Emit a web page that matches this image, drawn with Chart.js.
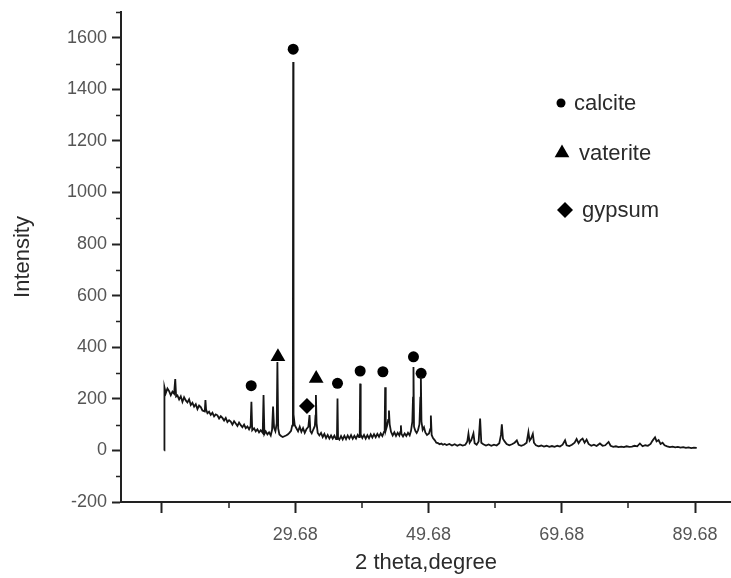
<!DOCTYPE html>
<html>
<head>
<meta charset="utf-8">
<script src="https://cdn.jsdelivr.net/npm/chart.js@4.4.1/dist/chart.umd.min.js"></script>
<style>
  html, body { margin: 0; padding: 0; background: #fff; }
  canvas { display: block; }
</style>
</head>
<body>
<canvas id="xrd" width="731" height="578"></canvas>
<script>
// XRD scan (2 theta in degrees, counts)
const twoTheta = [
  10.02, 10.05, 10.25, 10.50, 10.75, 11.00, 11.25, 11.50, 11.67, 11.80,
  12.00, 12.25, 12.50, 12.75, 13.00, 13.25, 13.50, 13.75, 14.00, 14.25,
  14.50, 14.75, 15.00, 15.25, 15.50, 15.75, 16.10, 16.20, 16.30, 16.50,
  16.75, 17.00, 17.25, 17.50, 17.75, 18.00, 18.25, 18.50, 18.75, 19.00,
  19.25, 19.50, 19.75, 20.00, 20.25, 20.50, 20.75, 21.00, 21.25, 21.50,
  21.75, 22.00, 22.25, 22.50, 22.75, 22.98, 23.10, 23.22, 23.50, 23.75,
  24.00, 24.25, 24.50, 24.80, 24.92, 25.05, 25.25, 25.50, 25.75, 26.00,
  26.20, 26.35, 26.50, 26.70, 26.90, 27.00, 27.12, 27.30, 27.55, 27.80,
  28.05, 28.30, 28.55, 28.80, 29.05, 29.22, 29.33, 29.37, 29.42, 29.60,
  29.85, 30.10, 30.35, 30.60, 30.85, 31.10, 31.35, 31.65, 31.82, 31.95,
  32.15, 32.40, 32.62, 32.72, 32.78, 32.88, 33.05, 33.30, 33.55, 33.80,
  34.05, 34.30, 34.55, 34.80, 35.05, 35.30, 35.55, 35.80, 35.94, 36.02,
  36.10, 36.30, 36.55, 36.80, 37.05, 37.30, 37.55, 37.80, 38.05, 38.30,
  38.55, 38.80, 39.05, 39.25, 39.36, 39.42, 39.50, 39.75, 40.00, 40.25,
  40.50, 40.75, 41.00, 41.25, 41.50, 41.75, 42.00, 42.25, 42.50, 42.75,
  43.00, 43.10, 43.17, 43.26, 43.45, 43.62, 43.74, 43.85, 44.05, 44.30,
  44.55, 44.80, 45.05, 45.30, 45.45, 45.53, 45.62, 45.85, 46.10, 46.35,
  46.60, 46.85, 47.05, 47.25, 47.35, 47.42, 47.50, 47.70, 47.90, 48.10,
  48.32, 48.45, 48.53, 48.62, 48.80, 49.00, 49.20, 49.45, 49.75, 49.93,
  50.03, 50.15, 50.35, 50.60, 50.85, 51.10, 51.35, 51.60, 51.85, 52.10,
  52.40, 52.80, 53.20, 53.60, 54.00, 54.40, 54.80, 55.20, 55.50, 55.67,
  55.85, 56.10, 56.42, 56.60, 56.90, 57.20, 57.42, 57.60, 57.90, 58.30,
  58.70, 59.10, 59.50, 59.90, 60.30, 60.55, 60.68, 60.85, 61.10, 61.40,
  61.80, 62.20, 62.60, 62.93, 63.20, 63.60, 64.00, 64.40, 64.67, 64.85,
  65.05, 65.33, 65.50, 65.80, 66.20, 66.60, 67.00, 67.40, 67.80, 68.20,
  68.60, 69.00, 69.40, 69.80, 70.17, 70.40, 70.80, 71.20, 71.60, 71.90,
  72.20, 72.50, 72.80, 73.10, 73.40, 73.70, 74.10, 74.50, 74.90, 75.40,
  75.80, 76.20, 76.70, 77.00, 77.40, 77.80, 78.20, 78.60, 79.00, 79.40,
  79.80, 80.20, 80.60, 81.00, 81.40, 81.80, 82.20, 82.60, 83.00, 83.30,
  83.67, 83.90, 84.20, 84.50, 84.80, 85.10, 85.50, 85.90, 86.30, 86.70,
  87.10, 87.50, 87.90, 88.30, 88.70, 89.10, 89.50, 89.93
]
const intensity = [
  0, 245, 222, 240, 230, 214, 228, 220, 277, 209,
  213, 198, 210, 188, 206, 194, 186, 198, 176, 185,
  170, 179, 160, 174, 168, 155, 151, 195, 158, 144,
  150, 138, 146, 132, 140, 136, 124, 133, 126, 116,
  126, 110, 117, 112, 100, 113, 104, 95, 108, 98,
  90, 100, 86, 93, 82, 94, 189, 78, 86, 74,
  82, 70, 78, 68, 215, 64, 74, 62, 70, 58,
  80, 170, 88, 75, 105, 343, 85, 62, 56, 52,
  55, 58, 62, 68, 76, 96, 590, 1506, 140, 98,
  86, 74, 92, 72, 86, 68, 82, 92, 137, 74,
  66, 82, 95, 135, 215, 105, 68, 58, 68, 52,
  64, 48, 60, 46, 58, 46, 57, 44, 56, 201,
  48, 42, 56, 43, 57, 44, 58, 46, 59, 45,
  57, 46, 60, 52, 72, 259, 62, 48, 60, 46,
  59, 47, 62, 50, 63, 51, 64, 53, 66, 56,
  72, 92, 245, 78, 95, 118, 155, 101, 72, 58,
  70, 56, 68, 58, 72, 97, 64, 54, 66, 56,
  68, 58, 76, 112, 205, 323, 92, 76, 68, 78,
  102, 205, 284, 112, 80, 90, 70, 60, 66, 82,
  135, 60, 48, 40, 30, 28, 24, 27, 22, 25,
  21, 25, 19, 24, 18, 23, 19, 22, 35, 65,
  30, 40, 66, 28, 22, 35, 124, 30, 24, 19,
  23, 18, 22, 19, 28, 60, 101, 45, 35, 25,
  20, 24, 30, 39, 22, 18, 22, 30, 71, 38,
  45, 64, 30, 20, 16, 19, 15, 18, 14, 17,
  14, 18, 15, 22, 39, 20, 17, 22, 30, 44,
  28, 40, 46, 30, 42, 25, 18, 22, 17, 27,
  18, 20, 33, 18, 14, 16, 13, 15, 13, 16,
  14, 15, 18, 16, 27, 16, 20, 18, 25, 38,
  51, 35, 40, 25, 30, 20, 16, 13, 15, 12,
  14, 11, 13, 10, 12, 9, 11, 10
]

// phase markers placed above the peaks
const calciteTheta = [23.07, 29.37, 36.02, 39.42, 42.83, 47.42, 48.57]
const calciteI = [251, 1556, 260, 308, 305, 363, 299]
const vateriteTheta = [27.08, 32.82]
const vateriteI = [363, 279]
const gypsumTheta = [31.43]
const gypsumI = [172]

// axes
const xTicks = [9.68, 29.68, 49.68, 69.68, 89.68]
const xLabels = [29.68, 49.68, 69.68, 89.68]
const xMinorTicks = [19.68, 39.68, 59.68, 79.68]
const yTicks = [-200, 0, 200, 400, 600, 800, 1000, 1200, 1400, 1600]
const yMinorTicks = [-100, 100, 300, 500, 700, 900, 1100, 1300, 1500, 1700]

const FONT = '"Liberation Sans", Arial, sans-serif'
const AXIS = '#222'

const toPoints = (xs, ys) => xs.map((x, i) => ({x: x, y: ys[i]}))

// short ticks between the labelled ones
const minorTicks = {
  id: 'minorTicks',
  afterDraw(chart) {
    const {ctx, chartArea, scales} = chart
    ctx.save()
    ctx.strokeStyle = AXIS
    ctx.lineWidth = 1.5
    ctx.beginPath()
    yMinorTicks.forEach(v => {
      const py = Math.round(scales.y.getPixelForValue(v)) + 0.5
      ctx.moveTo(chartArea.left, py)
      ctx.lineTo(chartArea.left - 5, py)
    })
    xMinorTicks.forEach(v => {
      const px = Math.round(scales.x.getPixelForValue(v))
      ctx.moveTo(px, chartArea.bottom)
      ctx.lineTo(px, chartArea.bottom + 6)
    })
    ctx.stroke()
    ctx.restore()
  }
}

// legend sits inside the plot, top right
const phaseLegend = {
  id: 'phaseLegend',
  afterDraw(chart) {
    const {ctx, chartArea} = chart
    const rows = [
      {ds: 1, dx: -170, dy: 91, tx: -157, r: 4.5},
      {ds: 2, dx: -169, dy: 141, tx: -152, r: 8.5},
      {ds: 3, dx: -166, dy: 198, tx: -149, r: 8}
    ]
    ctx.save()
    ctx.font = '22px ' + FONT
    ctx.textBaseline = 'middle'
    rows.forEach(row => {
      const d = chart.data.datasets[row.ds]
      const x = chartArea.right + row.dx
      const y = chartArea.top + row.dy
      ctx.fillStyle = '#000'
      Chart.helpers.drawPoint(ctx, {pointStyle: d.pointStyle, rotation: 0, radius: row.r, borderWidth: 0}, x, y)
      ctx.fillStyle = '#2b2b2b'
      ctx.fillText(d.label, chartArea.right + row.tx, y + 1)
    })
    ctx.restore()
  }
}

new Chart(document.getElementById('xrd'), {
  type: 'scatter',
  data: {
    datasets: [
      {
        label: 'pattern',
        data: toPoints(twoTheta, intensity),
        showLine: true,
        borderColor: '#151515',
        borderWidth: 1.8,
        pointRadius: 0,
        tension: 0
      },
      {
        label: 'calcite',
        data: toPoints(calciteTheta, calciteI),
        pointStyle: 'circle',
        pointRadius: 5.5,
        backgroundColor: '#000',
        borderWidth: 0
      },
      {
        label: 'vaterite',
        data: toPoints(vateriteTheta, vateriteI),
        pointStyle: 'triangle',
        pointRadius: 8.5,
        backgroundColor: '#000',
        borderWidth: 0
      },
      {
        label: 'gypsum',
        data: toPoints(gypsumTheta, gypsumI),
        pointStyle: 'rectRot',
        pointRadius: 8,
        backgroundColor: '#000',
        borderWidth: 0
      }
    ]
  },
  options: {
    responsive: false,
    animation: false,
    events: [],
    layout: {autoPadding: false, padding: {top: 12, right: 0, bottom: 0, left: 0}},
    plugins: {
      legend: {display: false},
      tooltip: {enabled: false}
    },
    scales: {
      x: {
        type: 'linear',
        min: 3.53,
        max: 95.07,
        afterBuildTicks: s => { s.ticks = xTicks.map(v => ({value: v})) },
        afterFit: s => {
          s.height = 76
          s.paddingLeft = 0
          s.paddingRight = 0
        },
        ticks: {
          autoSkip: false,
          maxRotation: 0,
          padding: 11,
          color: '#555',
          font: {family: FONT, size: 18},
          callback: v => xLabels.includes(v) ? v.toFixed(2) : ''
        },
        grid: {drawOnChartArea: false, tickLength: 11, tickWidth: 2, tickColor: AXIS},
        border: {color: AXIS, width: 2},
        title: {
          display: true,
          text: '2 theta,degree',
          color: '#2b2b2b',
          font: {family: FONT, size: 22},
          padding: {top: 0, bottom: 2}
        }
      },
      y: {
        min: -200,
        max: 1700,
        afterBuildTicks: s => { s.ticks = yTicks.map(v => ({value: v})) },
        afterFit: s => {
          s.width = 121
          s.paddingTop = 0
          s.paddingBottom = 0
        },
        ticks: {
          padding: 5,
          color: '#555',
          font: {family: FONT, size: 18},
          callback: v => String(v)
        },
        grid: {drawOnChartArea: false, tickLength: 9, tickWidth: 2, tickColor: AXIS},
        border: {color: AXIS, width: 2},
        title: {
          display: true,
          text: 'Intensity',
          color: '#2b2b2b',
          font: {family: FONT, size: 22},
          padding: {top: 10, bottom: 0}
        }
      }
    }
  },
  plugins: [minorTicks, phaseLegend]
})
</script>
</body>
</html>
